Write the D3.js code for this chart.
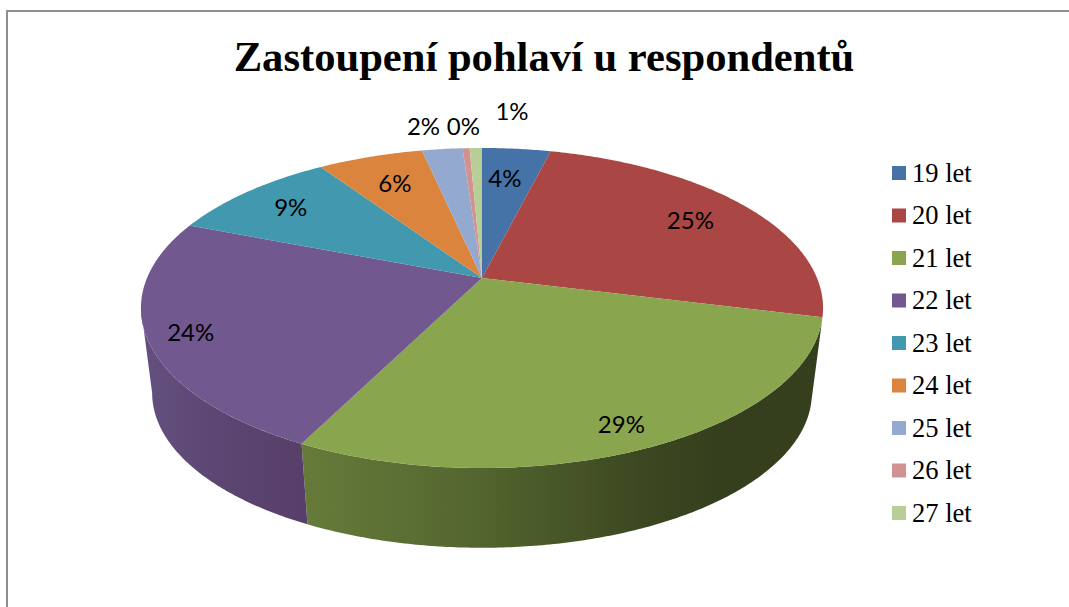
<!DOCTYPE html>
<html>
<head>
<meta charset="utf-8">
<script src="https://cdn.jsdelivr.net/npm/d3@7/dist/d3.min.js"></script>
<style>
    html, body { margin: 0; padding: 0; background: #fff; }
    svg { display: block; }
</style>
</head>
<body>
<svg width="1069" height="607"></svg>
<script>
    // values, in percent (slice angles); labels as printed
    const categories = ['19 let', '20 let', '21 let', '22 let', '23 let', '24 let', '25 let', '26 let', '27 let'];
    const values = [3.9, 25, 28.5, 23.5, 9.7, 6, 2.3, 0.4, 0.7];
    const labels = ['4%', '25%', '29%', '24%', '9%', '6%', '2%', '0%', '1%'];
    const colors = ['#4572A7', '#AA4643', '#89A54E', '#71588F', '#4198AF', '#DB843D', '#93A9CF', '#D19392', '#B9CD96'];
    const title = 'Zastoupení pohlaví u respondentů';

    // where each % label sits, as a fraction of the radius + a nudge in degrees
    const labelRadius = [0.74, 0.78, 0.88, 0.88, 0.8, 0.75, 1.22, 1.21, 1.36];
    const labelShift = [-1, 0, 1, -1, 0, 0, -2, 0, 6];

    const svg = d3.select('svg');
    const cx = 482;
    const k = 0.1875; // perspective strength

    // top disc and bottom disc of the cylinder
    const topDisc = { rx: 335, ry: 154.4, cy: 278 };
    const bottomDisc = { rx: 324, ry: 149.3, cy: 364 };

    // angle is clockwise from 12 o'clock
    const project = (angle, r, disc) => {
        const x = r * Math.sin(angle);
        const y = -r * Math.cos(angle);
        const w = 1 - k * y;
        return [cx + disc.rx * x / w, disc.cy + disc.ry * y / w];
    };

    const arcPoints = (a0, a1, disc) => {
        const n = Math.max(2, Math.ceil((a1 - a0) / 0.01));
        return d3.range(n + 1).map(i => project(a0 + (a1 - a0) * i / n, 1, disc));
    };

    const line = d3.line();
    const colorScale = d3.scaleOrdinal().domain(categories).range(colors);
    const pie = d3.pie().sort(null).value(d => d.value);
    const slices = pie(categories.map((c, i) => ({ category: c, value: values[i] })));

    // frame of the pasted chart, only top and left show
    svg.append('path')
        .attr('d', 'M7,607V11H1069')
        .attr('fill', 'none')
        .attr('stroke', '#8f8f8f')
        .attr('stroke-width', 2);

    svg.append('text')
        .attr('x', 544)
        .attr('y', 71)
        .attr('text-anchor', 'middle')
        .attr('font-family', '"Liberation Serif"')
        .attr('font-weight', 'bold')
        .attr('font-size', 42.6)
        .text(title);

    // side walls shade from left to right, only two slices show a wall
    const defs = svg.append('defs');
    const wallStops = {
        '21 let': [[0, '#667b3a'], [0.3, '#566830'], [0.65, '#3c4821'], [0.8, '#353f1d'], [1, '#353f1d']],
        '22 let': [[0, '#64507f'], [0.5, '#5b4571'], [1, '#573f69']]
    };
    const wallId = c => 'wall' + categories.indexOf(c);
    Object.keys(wallStops).forEach(c => {
        const grad = defs.append('linearGradient').attr('id', wallId(c));
        grad.selectAll('stop').data(wallStops[c]).enter().append('stop')
            .attr('offset', d => d[0])
            .attr('stop-color', d => d[1]);
    });

    // past this angle the wall turns away behind the top disc
    const wallEnd = 2 * Math.PI - Math.acos(-k);

    svg.append('g').selectAll('path')
        .data(slices.filter(d => wallStops[d.data.category]))
        .enter().append('path')
        .attr('d', d => {
            const end = Math.min(d.endAngle, wallEnd);
            const upper = arcPoints(d.startAngle, end, topDisc);
            const lower = arcPoints(d.startAngle, end, bottomDisc).reverse();
            return line(upper.concat(lower)) + 'Z';
        })
        .attr('fill', d => `url(#${wallId(d.data.category)})`);

    svg.append('g').selectAll('path')
        .data(slices)
        .enter().append('path')
        .attr('d', d => line([[cx, topDisc.cy]].concat(arcPoints(d.startAngle, d.endAngle, topDisc))) + 'Z')
        .attr('fill', d => colorScale(d.data.category));

    svg.append('g').selectAll('text')
        .data(slices)
        .enter().append('text')
        .attr('transform', (d, i) => {
            const mid = (d.startAngle + d.endAngle) / 2 + labelShift[i] * Math.PI / 180;
            return `translate(${project(mid, labelRadius[i], topDisc)})`;
        })
        .attr('text-anchor', 'middle')
        .attr('dy', '0.36em')
        .attr('font-family', 'Lato')
        .attr('font-size', 24)
        .attr('fill', '#000')
        .text((d, i) => labels[i]);

    // legend
    const legendY = d3.scalePoint().domain(categories).range([173, 513]);
    const legend = svg.append('g').selectAll('g')
        .data(categories)
        .enter().append('g')
        .attr('transform', d => `translate(892,${legendY(d)})`);

    legend.append('rect')
        .attr('y', -7)
        .attr('width', 14)
        .attr('height', 14)
        .attr('fill', colorScale);

    legend.append('text')
        .attr('x', 20)
        .attr('dy', '0.33em')
        .attr('font-family', '"Liberation Serif"')
        .attr('font-size', 26.5)
        .text(d => d);
</script>
</body>
</html>
